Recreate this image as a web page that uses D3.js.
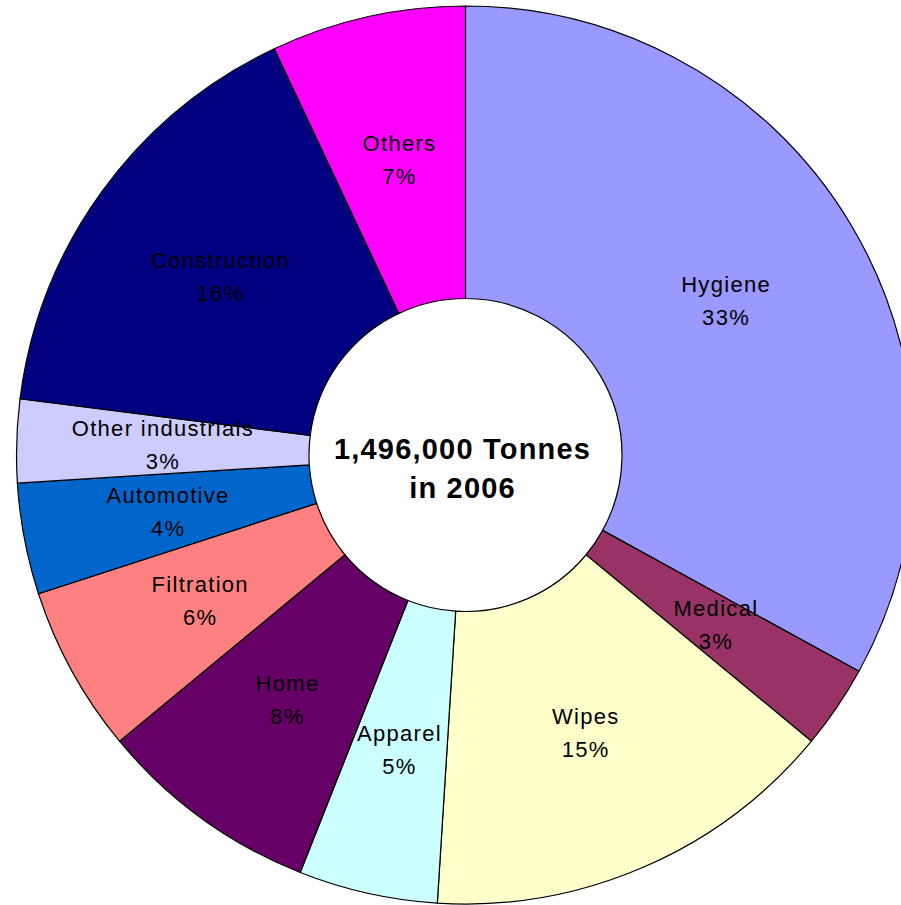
<!DOCTYPE html>
<html>
<head>
<meta charset="utf-8">
<script src="https://cdn.jsdelivr.net/npm/d3@7"></script>
<style>
  body { margin: 0; background: #fff; }
  svg { display: block; }
</style>
</head>
<body>
<div id="chart"></div>
<script>
// nonwovens end uses, share of total tonnage (2006)
var categories = ["Hygiene", "Medical", "Wipes", "Apparel", "Home", "Filtration",
  "Automotive", "Other industrials", "Construction", "Others"];
var shares = [33, 3, 15, 5, 8, 6, 4, 3, 16, 7];
var colors = ["#9999ff", "#993366", "#ffffcc", "#ccffff", "#660066", "#ff8080",
  "#0066cc", "#ccccff", "#000080", "#ff00ff"];
var centerLines = ["1,496,000 Tonnes", "in 2006"];

var W = 901, H = 905;
var cx = 465.5, cy = 455, rOut = 449, rIn = 156.5;

var svg = d3.select("#chart").append("svg")
  .attr("width", W).attr("height", H);

var g = svg.append("g").attr("transform", "translate(" + cx + "," + cy + ")");

var pie = d3.pie().sort(null).value(function(d) { return d; })
  .startAngle(0).endAngle(2 * Math.PI);
var arcs = pie(shares);

var arc = d3.arc().innerRadius(rIn).outerRadius(rOut);
var labelArc = d3.arc().innerRadius((rIn + rOut) / 2).outerRadius((rIn + rOut) / 2);

g.selectAll("path.slice")
  .data(arcs)
  .enter().append("path")
  .attr("class", "slice")
  .attr("d", arc)
  .attr("fill", function(d, i) { return colors[i]; })
  .attr("stroke", "#000")
  .attr("stroke-width", 1.2);

var total = d3.sum(shares);
var labels = g.selectAll("text.lbl")
  .data(arcs)
  .enter().append("text")
  .attr("class", "lbl")
  .attr("transform", function(d) { return "translate(" + labelArc.centroid(d) + ")"; })
  .attr("text-anchor", "middle")
  .style("font-family", "'Liberation Sans', Arial, sans-serif")
  .style("font-size", "22px")
  .style("letter-spacing", "1.3px")
  .attr("fill", "#000");

labels.append("tspan").attr("x", 0).attr("y", -9)
  .text(function(d, i) { return categories[i]; });
labels.append("tspan").attr("x", 0).attr("y", 24)
  .text(function(d) { return Math.round(d.value / total * 100) + "%"; });

var ct = g.append("text")
  .attr("text-anchor", "middle")
  .style("font-family", "'Liberation Sans', Arial, sans-serif")
  .style("font-size", "29px")
  .style("font-weight", "bold")
  .style("letter-spacing", "1.2px")
  .attr("fill", "#000");
ct.selectAll("tspan").data(centerLines).enter().append("tspan")
  .attr("x", -3)
  .attr("y", function(d, i) { return 4 + i * 39; })
  .text(function(d) { return d; });
</script>
</body>
</html>
